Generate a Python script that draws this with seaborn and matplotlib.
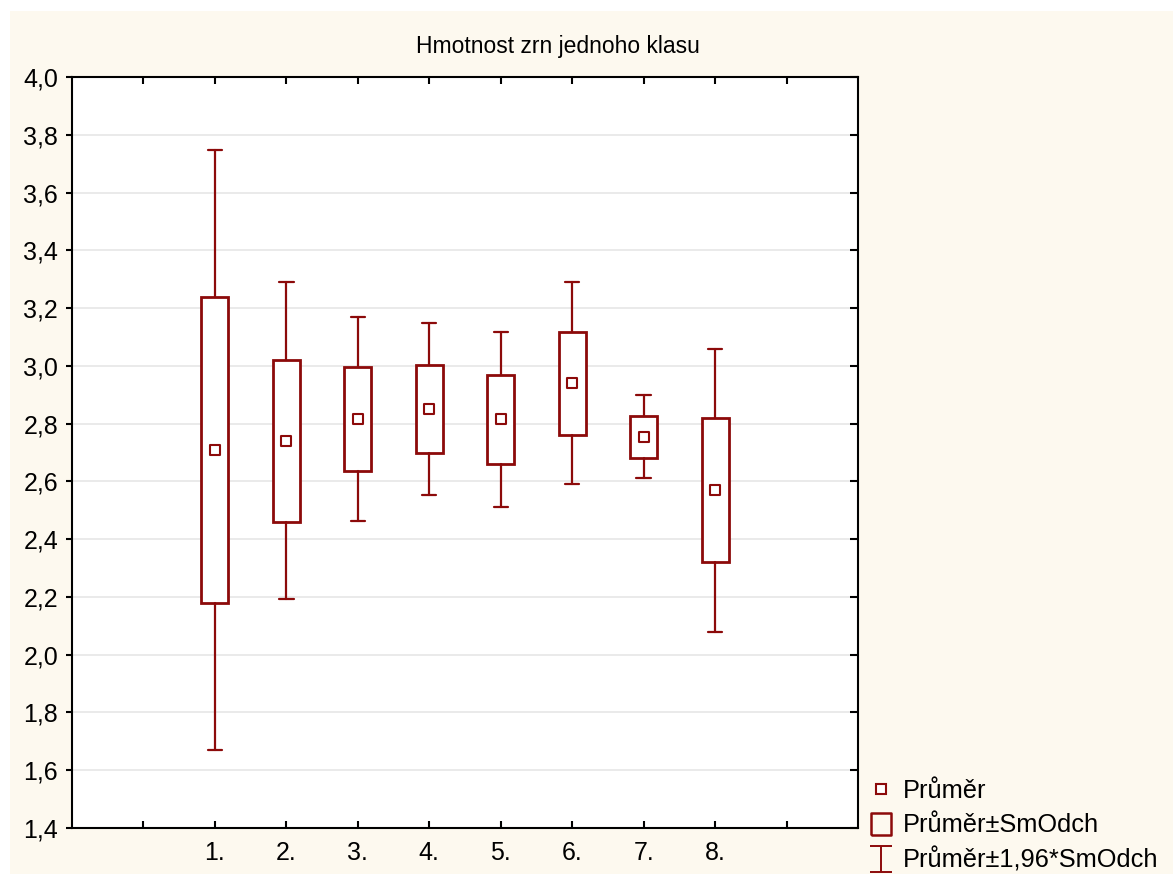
import matplotlib
matplotlib.use("Agg")
import matplotlib.pyplot as plt
from matplotlib.lines import Line2D
from matplotlib.patches import Rectangle
from matplotlib.path import Path
import seaborn as sns
import numpy as np
import pandas as pd

# hodnoty
skupiny = ["1.", "2.", "3.", "4.", "5.", "6.", "7.", "8."]
prumer = [2.71, 2.74, 2.815, 2.85, 2.815, 2.94, 2.755, 2.57]
smodch = [0.53, 0.28, 0.18, 0.152, 0.155, 0.178, 0.073, 0.25]
y_ticks = [1.4, 1.6, 1.8, 2.0, 2.2, 2.4, 2.6, 2.8, 3.0, 3.2, 3.4, 3.6, 3.8, 4.0]
titulek = "Hmotnost zrn jednoho klasu"
legenda = ["Průměr", "Průměr±SmOdch", "Průměr±1,96*SmOdch"]

cervena = "#8c0a0a"
kremova = "#fdf9ef"

sns.set_theme(style="white")
plt.rcParams["font.family"] = ["Liberation Sans", "DejaVu Sans"]
plt.rcParams["text.color"] = "black"
plt.rcParams["xtick.color"] = "black"
plt.rcParams["ytick.color"] = "black"

df = pd.DataFrame({"skupina": skupiny, "prumer": prumer, "sd": smodch})
df["pozice"] = np.arange(1, len(skupiny) + 1)

fig = plt.figure(figsize=(11.73, 8.77), dpi=100)
fig.patch.set_facecolor("white")
fig.patches.append(Rectangle((10 / 1173, 3 / 877), 1 - 10 / 1173, 1 - 14 / 877,
                             transform=fig.transFigure, facecolor=kremova,
                             edgecolor="none", zorder=-10))

ax = fig.add_axes([72 / 1173, 1 - 828 / 877, (858 - 72) / 1173, (828 - 77) / 877])
ax.set_facecolor("white")

# boxy (průměr ± SmOdch) a vousy (průměr ± 1,96*SmOdch)
stats = []
for _, r in df.iterrows():
    stats.append({
        "med": r["prumer"],
        "q1": r["prumer"] - r["sd"],
        "q3": r["prumer"] + r["sd"],
        "whislo": r["prumer"] - 1.96 * r["sd"],
        "whishi": r["prumer"] + 1.96 * r["sd"],
        "fliers": [],
    })
ax.bxp(stats, positions=df["pozice"], widths=0.38, capwidths=0.2,
       showfliers=False, patch_artist=True,
       boxprops=dict(facecolor="white", edgecolor=cervena, linewidth=2.0),
       whiskerprops=dict(color=cervena, linewidth=1.6),
       capprops=dict(color=cervena, linewidth=1.6),
       medianprops=dict(linewidth=0), zorder=3)

sns.scatterplot(data=df, x="pozice", y="prumer", marker="s", s=48,
                facecolor="white", edgecolor=cervena, linewidth=1.5,
                ax=ax, zorder=4, legend=False)

ax.set_xlim(-1, 10)
ax.set_ylim(1.4, 4.0)
ax.set_xticks(np.arange(0, 10))
ax.set_xticklabels([""] + skupiny + [""])
ax.set_yticks(y_ticks)
ax.set_yticklabels([f"{v:.1f}".replace(".", ",") for v in y_ticks])
ax.set_xlabel("")
ax.set_ylabel("")

ax.grid(axis="y", color="#e6e6e6", linewidth=1.2)
ax.grid(axis="x", visible=False)
ax.set_axisbelow(True)

for s in ax.spines.values():
    s.set_visible(True)
    s.set_color("black")
    s.set_linewidth(1.5)

ax.tick_params(axis="x", direction="in", top=True, bottom=True, length=5,
               width=1.5, color="black", labelcolor="black", labelsize=18, pad=9)
ax.tick_params(axis="y", direction="out", left=True, length=4, width=1.5,
               color="black", labelcolor="black", labelsize=18, pad=6)

# pravá osa s tiky dovnitř
ax2 = ax.twinx()
ax2.set_ylim(ax.get_ylim())
ax2.set_yticks(y_ticks)
ax2.set_yticklabels([])
ax2.tick_params(axis="y", direction="in", right=True, length=6, width=1.5,
                color="black")
ax2.grid(False)
for s in ax2.spines.values():
    s.set_visible(False)

fig.text(558 / 1173, 1 - 46 / 877, titulek, ha="center", va="center",
         fontsize=16.5, color="black")

# legenda
box_path = Path([(-0.45, -0.5), (0.45, -0.5), (0.45, 0.5), (-0.45, 0.5), (-0.45, -0.5)])
bar_path = Path([(-0.4, 0.5), (0.4, 0.5), (0, 0.5), (0, -0.5), (-0.4, -0.5), (0.4, -0.5)],
                [Path.MOVETO, Path.LINETO, Path.MOVETO, Path.LINETO, Path.MOVETO, Path.LINETO])
handles = [
    Line2D([], [], linestyle="none", marker="s", markersize=6.5,
           markerfacecolor="white", markeredgecolor=cervena, markeredgewidth=1.5),
    Line2D([], [], linestyle="none", marker=box_path, markersize=16.5,
           markerfacecolor="none", markeredgecolor=cervena, markeredgewidth=1.8),
    Line2D([], [], linestyle="none", marker=bar_path, markersize=19,
           markerfacecolor="none", markeredgecolor=cervena, markeredgewidth=1.4),
]
fig.legend(handles, legenda, loc="center left",
           bbox_to_anchor=(869 / 1173, 1 - 826 / 877), frameon=False,
           fontsize=18.3, handlelength=0.95, handletextpad=0.4,
           labelspacing=0.4, borderpad=0, borderaxespad=0)

fig.savefig("out.png", dpi=100, facecolor=fig.get_facecolor())
